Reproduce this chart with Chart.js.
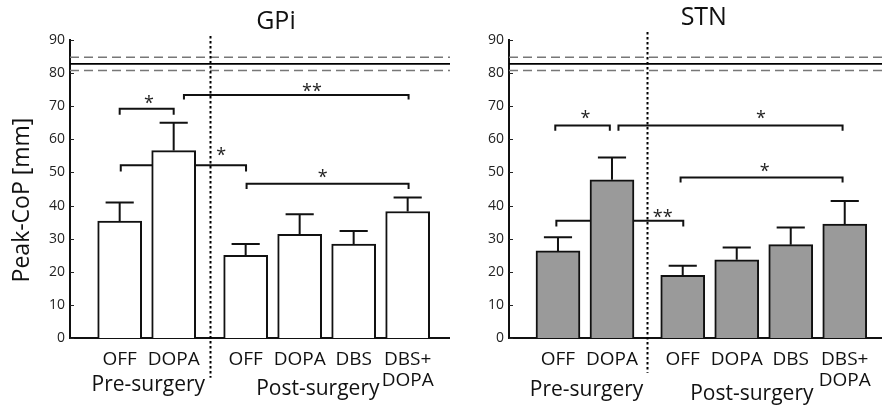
<!DOCTYPE html>
<html>
<head>
<meta charset="utf-8">
<script src="https://cdn.jsdelivr.net/npm/chart.js@4.4.0/dist/chart.umd.min.js"></script>
<style>
  body { margin: 0; background: #fff; }
  #wrap { position: relative; width: 882px; height: 407px; }
  canvas { position: absolute; top: 0; }
  #gpi { left: 0; }
  #stn { left: 450px; }
</style>
</head>
<body>
<div id="wrap">
  <canvas id="gpi" width="450" height="407"></canvas>
  <canvas id="stn" width="432" height="407"></canvas>
</div>
<script>
// conditions, pre-surgery first two, post-surgery last four
const conditions = ['OFF', 'DOPA', 'OFF', 'DOPA', 'DBS', ['DBS+', 'DOPA']];

// peak CoP means and SEM (mm)
const gpiMean = [35.3, 56.6, 25.0, 31.3, 28.4, 38.2];
const gpiErr  = [5.6, 8.4, 3.4, 6.1, 3.9, 4.2];
const stnMean = [26.3, 47.8, 18.9, 23.6, 28.2, 34.4];
const stnErr  = [4.1, 6.7, 2.9, 3.7, 5.2, 7.0];

// healthy controls reference: mean +/- band
const refMean = 82.8;
const refBand = 2.0;

const yTicks = [0, 10, 20, 30, 40, 50, 60, 70, 80, 90];

// significance brackets: [from, to, level, drop, stars, starX, starY]
const gpiBrackets = [
  [1.0, 2.0, 69.2, 1.8, '*', 1.54, 72.5],
  [2.19, 6.35, 73.4, 1.4, '**', 4.56, 76.1],
  [1.02, 3.34, 52.2, 1.9, '*', 2.88, 56.8],
  [3.35, 6.35, 46.6, 1.6, '*', 4.76, 50.0]
];
const stnBrackets = [
  [0.95, 1.96, 64.2, 1.6, '*', 1.51, 68.0],
  [2.12, 6.27, 64.2, 1.6, '*', 4.76, 68.0],
  [3.27, 6.27, 48.5, 1.5, '*', 4.83, 52.0],
  [0.97, 3.32, 35.4, 1.7, '**', 2.94, 38.0]
];

const FONT = "'Open Sans', 'Noto Sans', sans-serif";

function positions(gap) {
  return conditions.map((c, i) => i + 1 + (i >= 2 ? gap : 0));
}

const panelPlugin = {
  id: 'panel',
  beforeDatasetsDraw(chart, args, o) {
    const ctx = chart.ctx, a = chart.chartArea, x = chart.scales.x, y = chart.scales.y;
    ctx.save();
    // dashed band
    ctx.strokeStyle = '#777';
    ctx.lineWidth = 1.5;
    ctx.setLineDash([9, 5]);
    [refMean - refBand, refMean + refBand].forEach(v => {
      const py = y.getPixelForValue(v);
      ctx.beginPath(); ctx.moveTo(a.left, py); ctx.lineTo(a.right, py); ctx.stroke();
    });
    ctx.setLineDash([]);
    ctx.strokeStyle = '#000';
    ctx.lineWidth = 1.8;
    let py = y.getPixelForValue(refMean);
    ctx.beginPath(); ctx.moveTo(a.left, py); ctx.lineTo(a.right, py); ctx.stroke();

    // brackets (behind bars)
    ctx.strokeStyle = '#111';
    ctx.lineWidth = 2;
    o.brackets.forEach(b => {
      const l = x.getPixelForValue(b[0]), r = x.getPixelForValue(b[1]);
      const t = y.getPixelForValue(b[2]), d = y.getPixelForValue(b[2] - b[3]);
      ctx.beginPath(); ctx.moveTo(l, d); ctx.lineTo(l, t); ctx.lineTo(r, t); ctx.lineTo(r, d); ctx.stroke();
    });

    // inward tick marks on y axis
    ctx.lineWidth = 1;
    ctx.strokeStyle = '#222';
    yTicks.forEach(v => {
      const ty = Math.round(y.getPixelForValue(v)) + 0.5;
      ctx.beginPath(); ctx.moveTo(a.left, ty); ctx.lineTo(a.left + 4, ty); ctx.stroke();
    });
    ctx.restore();
  },
  afterDatasetsDraw(chart, args, o) {
    const ctx = chart.ctx, x = chart.scales.x, y = chart.scales.y;
    const meta = chart.getDatasetMeta(0);
    ctx.save();
    // error bars
    ctx.strokeStyle = '#111';
    ctx.lineWidth = 2;
    meta.data.forEach((bar, i) => {
      const top = y.getPixelForValue(o.mean[i] + o.err[i]);
      const half = bar.width * 0.32;
      ctx.beginPath();
      ctx.moveTo(bar.x, bar.y); ctx.lineTo(bar.x, top);
      ctx.moveTo(bar.x - half, top); ctx.lineTo(bar.x + half, top);
      ctx.stroke();
    });

    // stars
    ctx.fillStyle = '#222';
    ctx.font = '18px ' + FONT;
    ctx.textAlign = 'center';
    ctx.textBaseline = 'alphabetic';
    o.brackets.forEach(b => {
      ctx.fillText(b[4], x.getPixelForValue(b[5]), y.getPixelForValue(b[6]) + 11);
    });

    // dotted pre/post separator
    const sx = Math.round(x.getPixelForValue((o.pos[1] + o.pos[2]) / 2)) + 0.5;
    ctx.strokeStyle = '#000';
    ctx.lineWidth = 2;
    ctx.setLineDash([2.5, 2.5]);
    ctx.beginPath();
    ctx.moveTo(sx, y.getPixelForValue(o.sepTop));
    ctx.lineTo(sx, y.getPixelForValue(o.sepBottom));
    ctx.stroke();
    ctx.setLineDash([]);

    // group labels
    ctx.fillStyle = '#111';
    ctx.font = '21px ' + FONT;
    ctx.fillText('Pre-surgery', x.getPixelForValue(o.preX), o.preY);
    ctx.fillText('Post-surgery', x.getPixelForValue(o.postX), o.postY);

    // panel title
    ctx.font = '25px ' + FONT;
    ctx.textBaseline = 'middle';
    ctx.fillText(o.title, x.getPixelForValue(o.titleX), o.titleY);

    // y axis title
    if (o.yTitle) {
      ctx.font = '23px ' + FONT;
      ctx.translate(22, 200);
      ctx.rotate(-Math.PI / 2);
      ctx.fillText(o.yTitle, 0, 0);
    }
    ctx.restore();
  }
};

function makePanel(id, mean, err, gap, fill, yWidth, xMin, xMax, extra) {
  const pos = positions(gap);
  new Chart(document.getElementById(id), {
    type: 'bar',
    data: {
      datasets: [{
        data: pos.map((p, i) => ({ x: p, y: mean[i] })),
        backgroundColor: fill,
        borderColor: '#111',
        borderWidth: 2,
        barThickness: 44
      }]
    },
    options: {
      responsive: false,
      animation: false,
      layout: { padding: { top: 40, right: 0, left: 0, bottom: 0 } },
      plugins: {
        legend: { display: false },
        tooltip: { enabled: false },
        panel: Object.assign({ mean: mean, err: err, pos: pos }, extra)
      },
      scales: {
        x: {
          type: 'linear',
          min: xMin,
          max: xMax,
          offset: false,
          grid: { display: false, drawTicks: false },
          border: { display: true, color: '#111', width: 2 },
          afterBuildTicks: s => { s.ticks = pos.map(v => ({ value: v })); },
          afterFit: s => { s.height = 69; },
          ticks: {
            autoSkip: false,
            maxRotation: 0,
            padding: 11,
            color: '#111',
            font: { family: FONT, size: 19, lineHeight: 1.1 },
            callback: (v, i) => conditions[i]
          }
        },
        y: {
          min: 0,
          max: 90,
          grid: { display: false, drawTicks: false },
          border: { display: true, color: '#111', width: 2 },
          afterBuildTicks: s => { s.ticks = yTicks.map(v => ({ value: v })); },
          afterFit: s => { s.width = yWidth; },
          ticks: {
            padding: 5,
            color: '#222',
            font: { family: FONT, size: 14 }
          }
        }
      }
    },
    plugins: [panelPlugin]
  });
}

makePanel('gpi', gpiMean, gpiErr, 0.333, '#ffffff', 70, 0.08, 7.117, {
  brackets: gpiBrackets, title: 'GPi', titleX: 3.894, titleY: 22,
  sepTop: 91.2, sepBottom: -12,
  preX: 1.53, preY: 391, postX: 4.67, postY: 395,
  yTitle: 'Peak-CoP [mm]'
});
makePanel('stn', stnMean, stnErr, 0.31, '#9a9a9a', 59, 0.093, 7.0, {
  brackets: stnBrackets, title: 'STN', titleX: 3.7, titleY: 18,
  sepTop: 92.4, sepBottom: -10.5,
  preX: 1.53, preY: 396, postX: 4.59, postY: 400
});
</script>
</body>
</html>
